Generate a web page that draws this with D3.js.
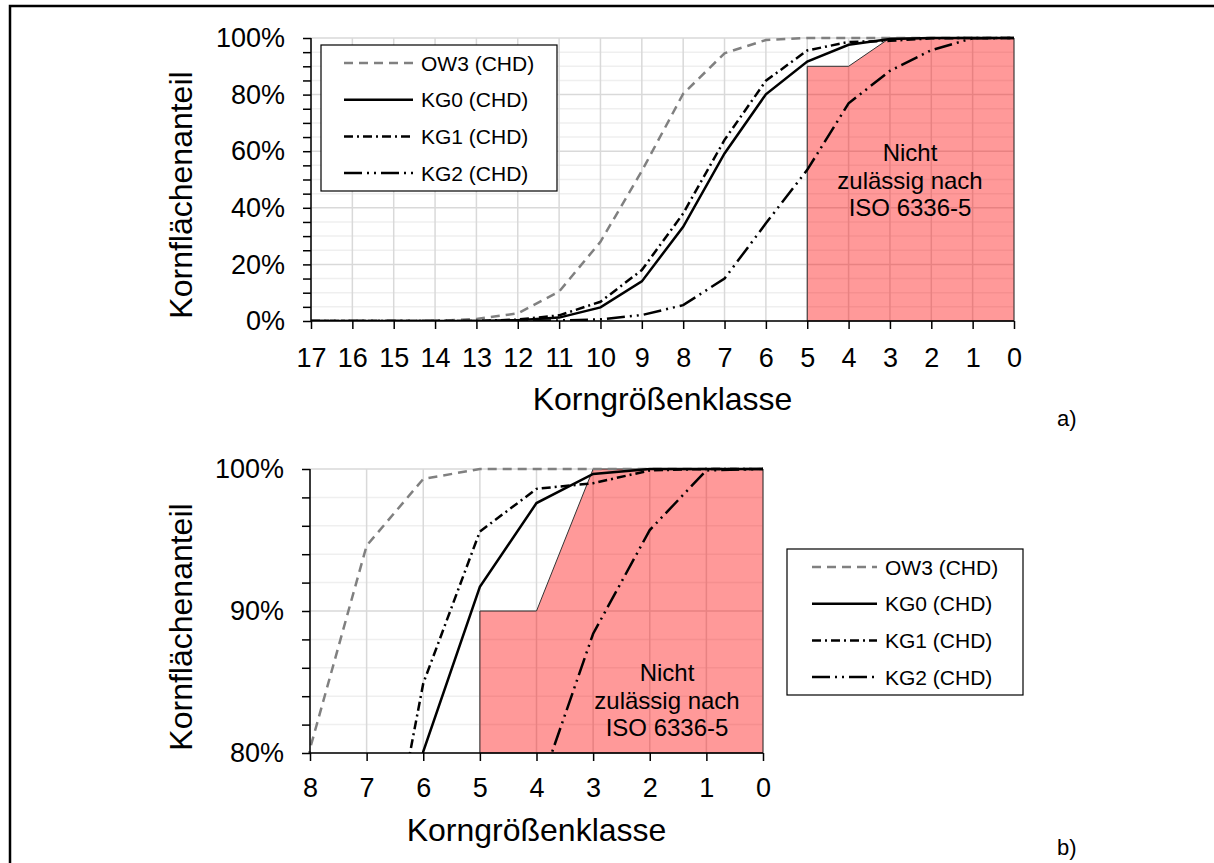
<!DOCTYPE html>
<html>
<head>
<meta charset="utf-8">
<script src="https://cdn.jsdelivr.net/npm/d3@7"></script>
<style>
  body { margin: 0; background: #fff; overflow: hidden; }
  svg { display: block; }
  svg text { font-family: "Liberation Sans", Arial, sans-serif; fill: #000; }
</style>
</head>
<body>
<div id="chart"></div>
<script>
// Korngrößenklassen (x) and cumulative Kornflächenanteil in % per series
var classes = [17, 16, 15, 14, 13, 12, 11, 10, 9, 8, 7, 6, 5, 4, 3, 2, 1, 0];
var ow3 = [0, 0, 0, 0, 0.7, 2.7, 10.4, 28, 53, 80.3, 94.6, 99.3, 100, 100, 100, 100, 100, 100];
var kg0 = [0, 0, 0, 0, 0, 0.3, 1.2, 4.8, 14, 33.3, 59.2, 80.1, 91.7, 97.6, 99.65, 100, 100, 100];
var kg1 = [0, 0, 0, 0, 0, 0.5, 2.0, 6.8, 18, 38, 64, 84.9, 95.6, 98.6, 99.0, 99.9, 100, 100];
var kg2 = [0, 0, 0, 0, 0, 0, 0.2, 0.6, 2.1, 5.6, 15, 34.5, 53.4, 76.9, 88.4, 95.7, 99.9, 100];
var seriesNames = ["OW3 (CHD)", "KG0 (CHD)", "KG1 (CHD)", "KG2 (CHD)"];
var seriesValues = [ow3, kg0, kg1, kg2];

// "nicht zulässig" zone outline
var zoneX = [5, 5, 4, 3, 0, 0];
var zoneY = [0, 90, 90, 100, 100, 0];
var noteLines = ["Nicht", "zulässig nach", "ISO 6336-5"];

var styles = [
  { color: "#808080", dash: "9,6" },
  { color: "#000", dash: null },
  { color: "#000", dash: "9,4,2,4" },
  { color: "#000", dash: "18,5,2,5,2,5" }
];

var svg = d3.select("#chart").append("svg")
  .attr("width", 1214)
  .attr("height", 863);

// outer frame (only top and left edges are inside the picture)
svg.append("rect")
  .attr("x", 10).attr("y", 6)
  .attr("width", 1300).attr("height", 1000)
  .attr("fill", "none")
  .attr("stroke", "#000")
  .attr("stroke-width", 2.5);

function panel(o) {
  var x = d3.scaleLinear().domain([o.xMax, 0]).range([o.left, o.right]);
  var y = d3.scaleLinear().domain([o.yMin, 100]).range([o.bottom, o.top]);
  var yc = y.copy().clamp(true);
  var g = svg.append("g");

  var minor = d3.range(o.yMin, 100.001, o.minor);
  var xs = classes.filter(function(c) { return c <= o.xMax; });

  // gridlines
  g.selectAll(".hmin").data(minor).enter().append("line")
    .attr("x1", o.left).attr("x2", o.right)
    .attr("y1", function(d) { return y(d); }).attr("y2", function(d) { return y(d); })
    .attr("stroke", function(d) { return (d - o.yMin) % o.major === 0 ? "#d9d9d9" : "#efefef"; })
    .attr("stroke-width", 1.5);
  g.selectAll(".vg").data(xs).enter().append("line")
    .attr("x1", function(d) { return x(d); }).attr("x2", function(d) { return x(d); })
    .attr("y1", o.top).attr("y2", o.bottom)
    .attr("stroke", "#d9d9d9")
    .attr("stroke-width", 1.5);

  // zone
  var zone = zoneX.map(function(d, i) { return [x(d), yc(zoneY[i])]; });
  g.append("path")
    .attr("d", d3.line()(zone) + "Z")
    .attr("fill", "#ff0000")
    .attr("fill-opacity", 0.4)
    .attr("stroke", "#333")
    .attr("stroke-width", 1);

  g.selectAll(".note").data(noteLines).enter().append("text")
    .attr("x", o.noteX)
    .attr("y", function(d, i) { return o.noteY + i * 27.5; })
    .attr("text-anchor", "middle")
    .attr("font-size", 24)
    .text(function(d) { return d; });

  // clip
  var clipId = "clip" + o.id;
  svg.append("clipPath").attr("id", clipId).append("rect")
    .attr("x", o.left - 2).attr("y", o.top - 3)
    .attr("width", o.right - o.left + 4).attr("height", o.bottom - o.top + 3);

  var line = d3.line()
    .x(function(d, i) { return x(classes[i]); })
    .y(function(d) { return y(d); });

  g.append("g").attr("clip-path", "url(#" + clipId + ")")
    .selectAll("path").data(seriesValues).enter().append("path")
    .attr("d", line)
    .attr("fill", "none")
    .attr("stroke", function(d, i) { return styles[i].color; })
    .attr("stroke-width", 2.5)
    .attr("stroke-dasharray", function(d, i) { return styles[i].dash; });

  // axes
  var yAxis = d3.axisLeft(y).tickValues(minor).tickSize(8).tickPadding(18)
    .tickFormat(function(d) { return (d - o.yMin) % o.major === 0 ? d + "%" : ""; });
  var ya = g.append("g").attr("transform", "translate(" + o.left + ",0)").call(yAxis);
  var xAxis = d3.axisBottom(x).tickValues(xs).tickSize(8).tickPadding(o.xPad)
    .tickFormat(d3.format("d"));
  var xa = g.append("g").attr("transform", "translate(0," + o.bottom + ")").call(xAxis);
  [ya, xa].forEach(function(a) {
    a.selectAll("path,line").attr("stroke", "#000").attr("stroke-width", 1.5);
    a.selectAll("text").attr("font-size", 27).attr("font-family", "Liberation Sans, Arial, sans-serif");
    a.select(".domain").attr("d", a === ya
      ? "M0," + o.bottom + "V" + o.top
      : "M" + o.left + ",0H" + o.right);
  });

  // axis titles
  g.append("text")
    .attr("x", (o.left + o.right) / 2).attr("y", o.xTitleY)
    .attr("text-anchor", "middle").attr("font-size", 32)
    .text("Korngrößenklasse");
  g.append("text")
    .attr("transform", "translate(192," + (o.bottom - 126) + ") rotate(-90)")
    .attr("text-anchor", "middle").attr("font-size", 32)
    .text("Kornflächenanteil");

  // legend
  var lg = g.append("g");
  lg.append("rect")
    .attr("x", o.lx).attr("y", o.ly).attr("width", 236).attr("height", 146)
    .attr("fill", "#fff").attr("stroke", "#000").attr("stroke-width", 1.2);
  var rows = lg.selectAll(".row").data(seriesNames).enter().append("g")
    .attr("transform", function(d, i) { return "translate(0," + (o.ly + 18 + i * 36.7) + ")"; });
  rows.append("line")
    .attr("x1", o.lx + o.s0).attr("x2", o.lx + o.s1)
    .attr("stroke", function(d, i) { return styles[i].color; })
    .attr("stroke-width", 2.5)
    .attr("stroke-dasharray", function(d, i) { return styles[i].dash; });
  rows.append("text")
    .attr("x", o.lx + o.s1 + 8).attr("y", 7.5)
    .attr("font-size", 21)
    .text(function(d) { return d; });

  svg.append("text")
    .attr("x", 1057).attr("y", o.tagY)
    .attr("font-size", 22)
    .text(o.tag);
}

panel({ id: "a", left: 311, right: 1014, top: 38, bottom: 321, xMax: 17, yMin: 0,
        major: 20, minor: 5, xPad: 19, xTitleY: 410,
        lx: 321, ly: 45, s0: 23, s1: 92, noteX: 910, noteY: 161,
        tag: "a)", tagY: 426 });
panel({ id: "b", left: 310, right: 763, top: 469, bottom: 753, xMax: 8, yMin: 80,
        major: 10, minor: 2, xPad: 17, xTitleY: 841,
        lx: 787, ly: 549, s0: 25, s1: 90, noteX: 667, noteY: 681,
        tag: "b)", tagY: 855 });
</script>
</body>
</html>
